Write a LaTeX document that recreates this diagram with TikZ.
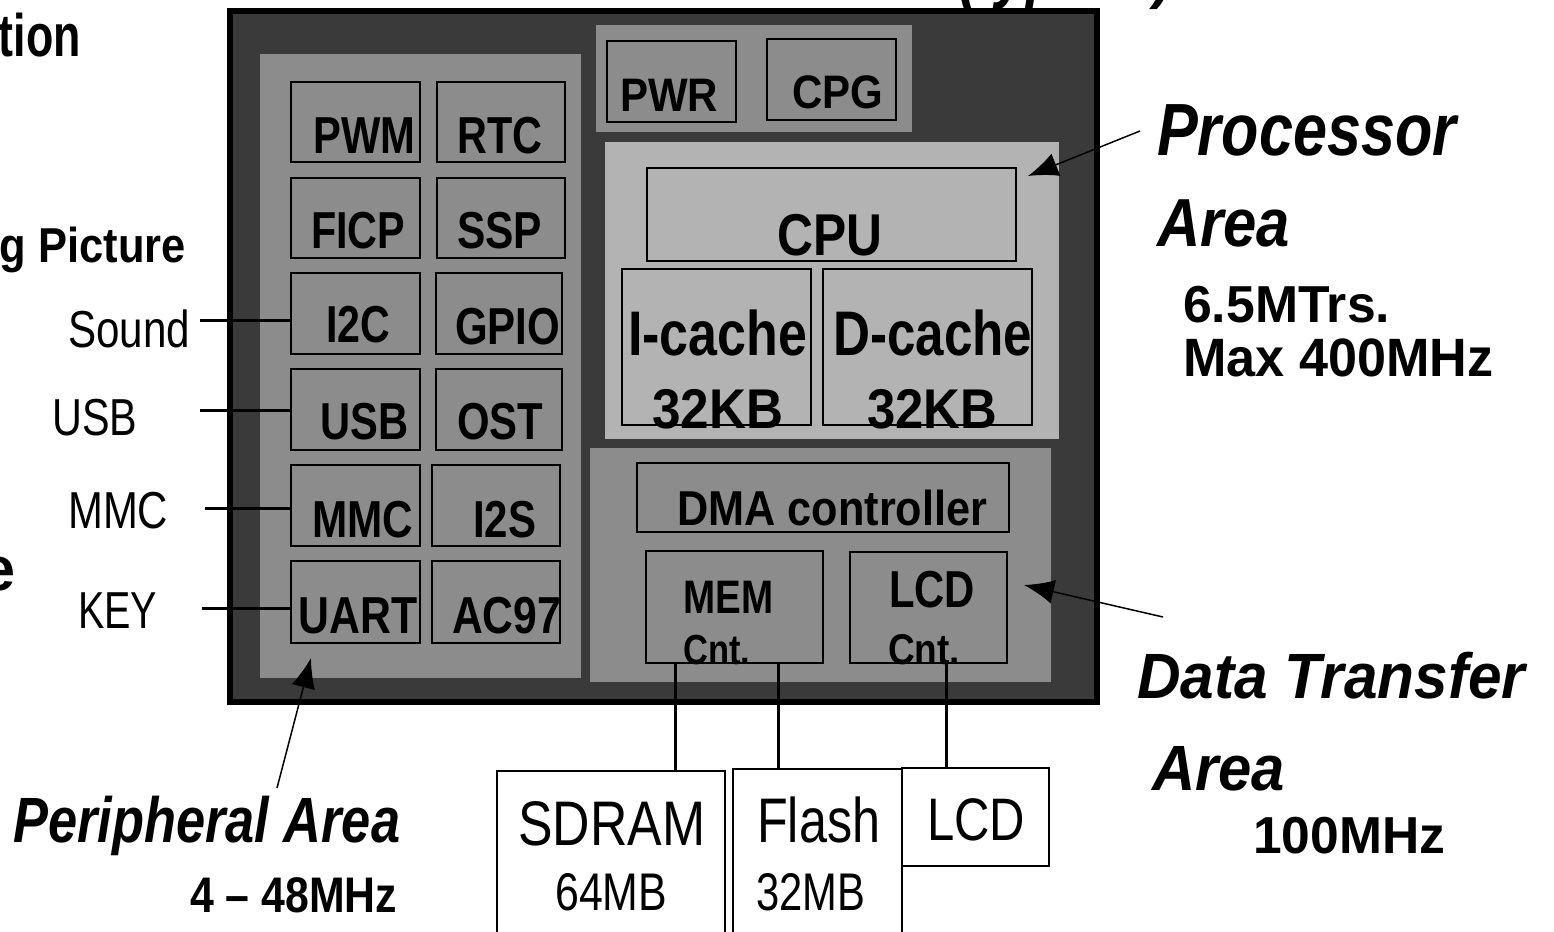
\documentclass[tikz,border=0pt]{standalone}
\usepackage{fontspec}
\setmainfont{Liberation Sans}
\usepackage{graphicx}
\usetikzlibrary{arrows.meta,fit}
\definecolor{chipdark}{RGB}{58,58,58}
\definecolor{areagray}{RGB}{140,140,140}
\definecolor{procgray}{RGB}{179,179,179}

% Block von Ecke zu Ecke
\newcommand{\blk}[6]{\node[#1, fit={(#3,#4) (#5,#6)}, inner sep=0pt] (#2) {};}
% Text auf Grundlinie, auf Breite gestaucht
\newcommand{\txt}[7]{\node[anchor=base west, inner sep=0pt] (#2) at (#3,#4) {#1\fontsize{#5pt}{#5pt}\selectfont\resizebox{#6pt}{\height}{#7}};}
\newcommand{\txe}[7]{\node[anchor=base east, inner sep=0pt] (#2) at (#3,#4) {#1\fontsize{#5pt}{#5pt}\selectfont\resizebox{#6pt}{\height}{#7}};}

\begin{document}
\begin{tikzpicture}[x=1pt, y=-1pt,
				>={Latex[length=30pt,width=24pt]},   %Pfeilspitzen
				chip/.style={draw=black, fill=chipdark, line width=6pt},
				area/.style={fill=#1, draw=none},
				unit/.style={draw=black, line width=2pt},
				memchip/.style={draw=black, fill=white, line width=1.5pt},
				wire/.style={line width=3pt},
				callout/.style={->, line width=1.5pt}]
				%Bildbereich
				\useasboundingbox (0,0) rectangle (1554,931);
				\clip (0,0) rectangle (1554,931);
				% abgeschnittene Texte am Rand
				\txe{\bfseries}{ttion}{81}{57}{60}{82}{tion}
				\txe{\bfseries}{tpic}{186}{262}{49}{186}{g Picture}
				\txe{\bfseries}{tee}{16}{590}{62}{34}{e}
				\txt{\bfseries\itshape}{ttyp}{958}{-4}{68}{215}{(typical)}
				% Chip und Bereiche
				\blk{chip}{soc}{230}{11}{1097}{702}
				\blk{area=areagray}{perarea}{260}{54}{581}{678}
				\blk{area=areagray}{pwrarea}{596}{25}{912}{132}
				\blk{area=procgray}{procarea}{605}{142}{1059}{439}
				\blk{area=areagray}{dataarea}{590}{448}{1051}{682}
				% Peripherie-Bloecke
				\foreach \nm/\xa/\ya/\xb/\yb/\tx/\ty/\tw/\lab in {
					pwm/291/82/420/162/313/153/102/PWM, rtc/437/82/565/162/457/153/85/RTC,
					ficp/291/178/420/258/311/248/94/FICP, ssp/437/178/565/258/457/248/85/SSP,
					i2c/291/273/420/354/326/342/64/I2C, gpio/436/273/562/354/455/344/105/GPIO,
					usb/291/369/420/450/320/439/88/USB, ost/436/369/562/450/457/439/86/OST,
					mmc/291/465/420/546/312/537/101/MMC, iis/432/465/560/546/473/537/63/I2S,
					uart/291/561/420/643/298/633/119/UART, ac/432/561/560/643/452/633/109/AC97}
				{
					\blk{unit}{\nm}{\xa}{\ya}{\xb}{\yb}
					\txt{\bfseries}{t\nm}{\tx}{\ty}{52}{\tw}{\lab}
				}
				% Takt und Power
				\blk{unit}{pwr}{607}{41}{736}{122}
				\blk{unit}{cpg}{767}{39}{896}{120}
				\txt{\bfseries}{tpwr}{620}{112}{47}{98}{PWR}
				\txt{\bfseries}{tcpg}{792}{109}{47}{91}{CPG}
				% Prozessor
				\blk{unit}{cpu}{647}{168}{1016}{261}
				\blk{unit}{icache}{622}{269}{811}{425}
				\blk{unit}{dcache}{823}{269}{1032}{425}
				\txt{\bfseries}{tcpu}{777}{255}{59}{105}{CPU}
				\txt{\bfseries}{ticache}{628}{355}{63}{179}{I-cache}
				\txt{\bfseries}{tdcache}{833}{355}{63}{199}{D-cache}
				\txt{\bfseries}{tikb}{652}{428}{56}{131}{32KB}
				\txt{\bfseries}{tdkb}{867}{428}{56}{130}{32KB}
				% Datentransfer
				\blk{unit}{dma}{637}{463}{1009}{532}
				\blk{unit}{memcnt}{646}{551}{823}{663}
				\blk{unit}{lcdcnt}{850}{552}{1007}{663}
				\txt{\bfseries}{tdma}{677}{525}{49}{310}{DMA controller}
				\txt{\bfseries}{tmem}{683}{613}{47}{90}{MEM}
				\txt{\bfseries}{tmemc}{683}{664}{42}{67}{Cnt.}
				\txt{\bfseries}{tlcd}{889}{607}{52}{86}{LCD}
				\txt{\bfseries}{tlcdc}{888}{664}{43}{72}{Cnt.}
				% externe Bausteine
				\blk{memchip}{sdram}{497}{771}{725}{945}
				\blk{memchip}{flash}{733}{769}{902}{945}
				\blk{memchip}{lcd}{902}{768}{1049}{866}
				\txt{}{tsdram}{518}{845}{63}{187}{SDRAM}
				\txt{}{tsdmb}{555}{910}{53}{112}{64MB}
				\txt{}{tflash}{757}{842}{63}{123}{Flash}
				\txt{}{tflmb}{756}{910}{53}{109}{32MB}
				\txt{}{tlcdx}{927}{840}{60}{98}{LCD}
				\draw[wire] ([xshift=30pt]memcnt.south west) -- ([xshift=30pt]memcnt.south west |- sdram.north);
				\draw[wire] ([xshift=133pt]memcnt.south west) -- ([xshift=133pt]memcnt.south west |- flash.north);
				\draw[wire] ([xshift=97pt]lcdcnt.south west) -- ([xshift=97pt]lcdcnt.south west |- lcd.north);
				% Anschluesse links
				\txt{}{tsound}{68}{347}{52}{122}{Sound}
				\txt{}{tusbx}{52}{435}{52}{85}{USB}
				\txt{}{tmmcx}{68}{528}{52}{100}{MMC}
				\txt{}{tkey}{78}{628}{52}{79}{KEY}
				\coordinate (sndend) at (200,320);
				\coordinate (usbend) at (200,410);
				\coordinate (mmcend) at (205,508);
				\coordinate (keyend) at (202,608);
				\draw[wire] (sndend) -- (sndend -| i2c.west);
				\draw[wire] (usbend) -- (usbend -| usb.west);
				\draw[wire] (mmcend) -- (mmcend -| mmc.west);
				\draw[wire] (keyend) -- (keyend -| uart.west);
				% Beschriftung rechts und unten
				\txt{\bfseries\itshape}{tproc}{1157}{156}{74}{299}{Processor}
				\txt{\bfseries\itshape}{tparea}{1157}{246}{68}{133}{Area}
				\txt{\bfseries}{ttrs}{1183}{322}{52}{207}{6.5MTrs.}
				\txt{\bfseries}{tmax}{1183}{376}{54}{310}{Max 400MHz}
				\txt{\bfseries\itshape}{tdata}{1137}{698}{64}{388}{Data Transfer}
				\txt{\bfseries\itshape}{tdarea}{1152}{790}{64}{133}{Area}
				\txt{\bfseries}{tdmhz}{1253}{853}{52}{192}{100MHz}
				\txt{\bfseries\itshape}{tper}{13}{842}{64}{387}{Peripheral Area}
				\txt{\bfseries}{tpmhz}{190}{912}{50}{207}{4 -- 48MHz}
				% Pfeile
				\coordinate (procfrom) at (1140,131);
				\coordinate (procto) at (1028,176);
				\coordinate (datafrom) at (1163,617);
				\coordinate (datato) at (1024,585);
				\coordinate (perfrom) at (277,788);
				\coordinate (perto) at (311,658);
				\draw[callout] (procfrom) -- (procto);
				\draw[callout] (datafrom) -- (datato);
				\draw[callout] (perfrom) -- (perto);
			\end{tikzpicture}
\end{document}
